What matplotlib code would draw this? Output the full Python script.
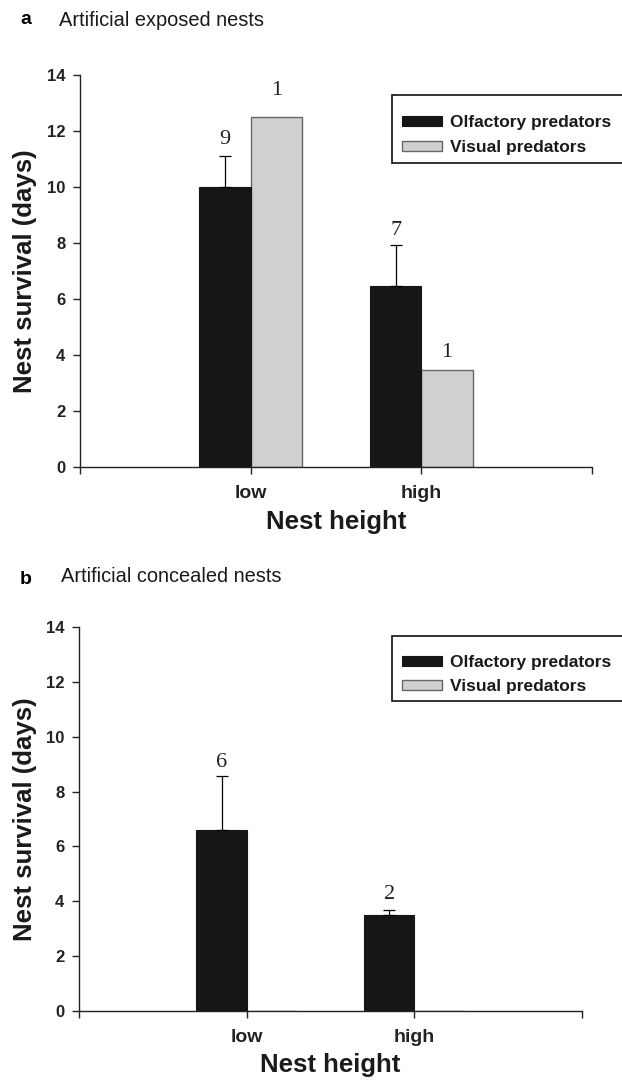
import matplotlib
matplotlib.use("Agg")
import matplotlib.pyplot as plt
import numpy as np
from matplotlib.patches import Patch, Rectangle

# ---------------- data ----------------
categories = ["low", "high"]
series_names = ["Olfactory predators", "Visual predators"]

exposed_olfactory = [10.0, 6.47]
exposed_olfactory_err = [1.11, 1.47]
exposed_visual = [12.49, 3.45]
exposed_n_olfactory = ["9", "7"]
exposed_n_visual = ["1", "1"]

concealed_olfactory = [6.59, 3.51]
concealed_olfactory_err = [1.96, 0.19]
concealed_visual = [0.0, 0.0]
concealed_n_olfactory = ["6", "2"]

panel_letters = ["a", "b"]
panel_titles = ["Artificial exposed nests", "Artificial concealed nests"]
y_ticks = [0, 2, 4, 6, 8, 10, 12, 14]

# ---------------- style ----------------
SANS = ["Liberation Sans", "DejaVu Sans"]
SERIF = ["Liberation Serif", "DejaVu Serif"]
BLACK = "#161616"
GREY = "#d0d0d0"
GREY_EDGE = "#666666"
W, H = 622, 1080
DPI = 100

plt.rcParams["font.family"] = SANS

fig = plt.figure(figsize=(W / DPI, H / DPI), dpi=DPI)


def px_axes(left, right, top, bottom):
    return fig.add_axes([left / W, 1 - bottom / H, (right - left) / W, (bottom - top) / H])


def draw_panel(ax, olf, olf_err, vis, n_olf, n_vis, off_olf, off_vis, legend_box_px):
    x = np.arange(1, len(categories) + 1)
    bw = 0.30
    ax.bar(x - bw / 2, olf, width=bw, color=BLACK, edgecolor=BLACK, linewidth=0.8, zorder=2)
    ax.bar(x + bw / 2, vis, width=bw, color=GREY, edgecolor=GREY_EDGE, linewidth=1.0, zorder=1)
    ax.errorbar(x - bw / 2, olf, yerr=[np.zeros(len(olf)), olf_err], fmt="none",
                ecolor="black", elinewidth=0.9, capsize=4, capthick=0.9, zorder=3)
    for i, lab in enumerate(n_olf):
        top = olf[i] + olf_err[i]
        ax.annotate(lab, (x[i] - bw / 2, top), xytext=(0, off_olf[i] * 0.72),
                    textcoords="offset points", ha="center", va="center",
                    fontsize=16, family=SERIF, color="#222222")
    for i, lab in enumerate(n_vis):
        if lab:
            ax.annotate(lab, (x[i] + bw / 2, vis[i]), xytext=(0, off_vis[i] * 0.72),
                        textcoords="offset points", ha="center", va="center",
                        fontsize=16, family=SERIF, color="#222222")

    ax.set_xlim(0, 3)
    ax.set_ylim(0, 14)
    ax.set_yticks(y_ticks)
    ax.set_yticklabels([str(t) for t in y_ticks])
    ax.set_xticks([0, 1, 2, 3])
    ax.set_xticklabels([""] + categories + [""])
    for s in ["top", "right"]:
        ax.spines[s].set_visible(False)
    for s in ["left", "bottom"]:
        ax.spines[s].set_linewidth(1.0)
        ax.spines[s].set_color("#222222")
        ax.spines[s].set_zorder(4)
    ax.tick_params(axis="y", direction="out", length=5, width=1, pad=5.5,
                   labelsize=12, colors="#222222")
    ax.tick_params(axis="x", direction="out", length=5, width=1, pad=8,
                   labelsize=14, colors="#222222")
    for lab in ax.get_xticklabels() + ax.get_yticklabels():
        lab.set_fontweight("bold")
    ax.set_ylabel("Nest survival (days)", fontsize=18.5, fontweight="bold", color="#1a1a1a")
    ax.yaxis.set_label_coords(-0.084, 0.5)
    ax.set_xlabel("Nest height", fontsize=18.5, fontweight="bold", color="#1a1a1a")
    ax.xaxis.set_label_coords(0.5, -0.11)

    # legend frame (extends beyond the right edge of the figure, as in the source)
    left, top, right, bottom = legend_box_px
    fig.patches.append(Rectangle((left / W, 1 - bottom / H), (right - left) / W, (bottom - top) / H,
                                 transform=fig.transFigure, facecolor="white",
                                 edgecolor="#111111", linewidth=1.2, zorder=5))
    handles = [Patch(facecolor=BLACK, edgecolor=BLACK, linewidth=0.8),
               Patch(facecolor=GREY, edgecolor=GREY_EDGE, linewidth=1.0)]
    leg = fig.legend(handles, series_names, loc="center left",
                     bbox_to_anchor=((left + 10) / W, 1 - ((top + bottom) / 2 + 6) / H),
                     frameon=False,
                     prop={"family": SANS, "weight": "bold", "size": 12.5},
                     handlelength=2.3, handleheight=0.5, handletextpad=0.46,
                     labelspacing=0.55, borderpad=0, borderaxespad=0)
    leg.set_zorder(6)
    for t in leg.get_texts():
        t.set_color("#1a1a1a")


ax1 = px_axes(80, 592, 75, 467)
draw_panel(ax1, exposed_olfactory, exposed_olfactory_err, exposed_visual,
           exposed_n_olfactory, exposed_n_visual, [16, 14], [27, 18], (392, 95, 700, 163))

ax2 = px_axes(79, 582, 627, 1011)
draw_panel(ax2, concealed_olfactory, concealed_olfactory_err, concealed_visual,
           concealed_n_olfactory, ["", ""], [14, 15], [0, 0], (392, 636, 700, 701))

# panel headings
fig.text(20 / W, 1 - 20 / H, panel_letters[0], fontsize=14, fontweight="bold", va="center", ha="left")
fig.text(59 / W, 1 - 20 / H, panel_titles[0], fontsize=14.4, va="center", ha="left", color="#1a1a1a")
fig.text(20 / W, 1 - 579 / H, panel_letters[1], fontsize=14, fontweight="bold", va="center", ha="left")
fig.text(61 / W, 1 - 577 / H, panel_titles[1], fontsize=14.4, va="center", ha="left", color="#1a1a1a")

fig.savefig("out.png", dpi=DPI)
